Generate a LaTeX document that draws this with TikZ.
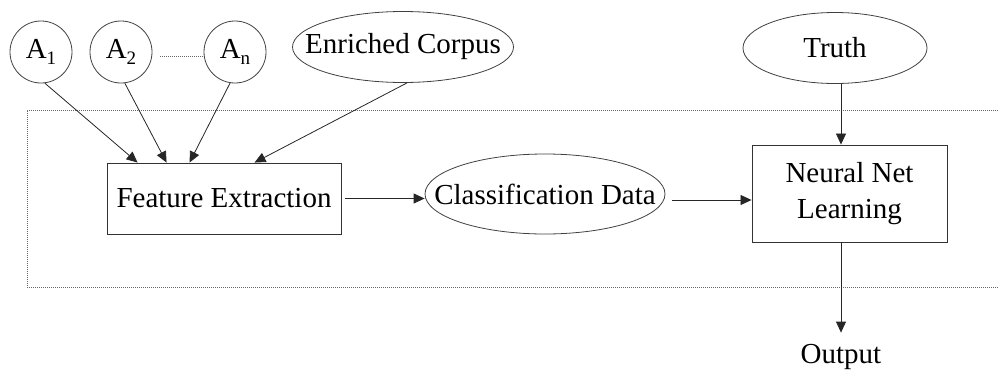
\documentclass[tikz,border=0pt]{standalone}
\usepackage{fontspec}
\setmainfont{Liberation Serif}
\usetikzlibrary{shapes.geometric,arrows.meta}
\newcommand\sbs[1]{\raisebox{-6pt}{\fontsize{19}{19}\selectfont #1}}
\newcommand\zw[1]{\makebox[0pt]{#1}}
\begin{document}
\begin{tikzpicture}[x=1pt,y=-1pt,
 every node/.style={font=\fontsize{29}{36}\selectfont, text=black},
 circ/.style={circle,draw=black!75,line width=0.8pt,minimum size=62pt,inner sep=0pt},
 ell/.style={ellipse,draw=black!75,line width=0.8pt,inner sep=0pt},
 box/.style={rectangle,draw=black!80,line width=0.9pt,inner sep=0pt},
 arr/.style={draw=black!85,line width=0.8pt,-{Triangle[length=11pt,width=10pt]}},
 dotline/.style={draw=black!60,line width=0.8pt,dash pattern=on 1pt off 1pt}]
\useasboundingbox (0,0) rectangle (998,370);
% dotted frame (open to the right)
\draw[dotline] (998,110) -- (27,110) -- (27,287) -- (998,287);
% nodes
\node[circ] (A1) at (41,52) {A\sbs{1}};
\node[circ] (A2) at (121,52) {A\sbs{2}};
\node[circ] (An) at (235,52) {A\sbs{n}};
\node[ell,minimum width=221pt,minimum height=71pt] (EC) at (403,47) {\zw{Enriched Corpus}};
\node[ell,minimum width=184pt,minimum height=71pt] (TR) at (835,48) {\zw{Truth}};
\node[box,minimum width=234pt,minimum height=71pt] (FE) at (224,198.5) {Feature Extraction};
\node[ell,minimum width=240pt,minimum height=80pt] (CD) at (545,194) {\zw{Classification Data}};
\node[box,minimum width=195pt,minimum height=97pt,align=center] (NN) at (849.5,193.5) {Neural Net\\Learning};
\node[inner sep=0pt,anchor=base] (OUT) at (841,363) {Output};
% connectors
\draw[dotline] ([xshift=8pt,yshift=-4pt]A2.east) -- ([yshift=-4pt]An.west);
\draw[arr] (A1.-83) -- ([xshift=31pt]FE.north west);
\draw[arr] (A2.-83) -- ([xshift=60pt]FE.north west);
\draw[arr] (An.-99) -- ([xshift=83pt]FE.north west);
\draw[arr] ([xshift=4pt]EC.south) -- ([xshift=148pt]FE.north west);
\draw[arr] ([xshift=4pt]FE.east) -- (FE.east -| CD.west);
\draw[arr] ([xshift=7pt,yshift=-6pt]CD.east) -- ([yshift=-6.5pt]NN.west);
\draw[arr] ([xshift=6pt]TR.south) -- ([xshift=-8.5pt]NN.north);
\draw[arr] ([xshift=-8.5pt]NN.south) -- ([yshift=11pt]OUT.north);
\end{tikzpicture}
\end{document}
